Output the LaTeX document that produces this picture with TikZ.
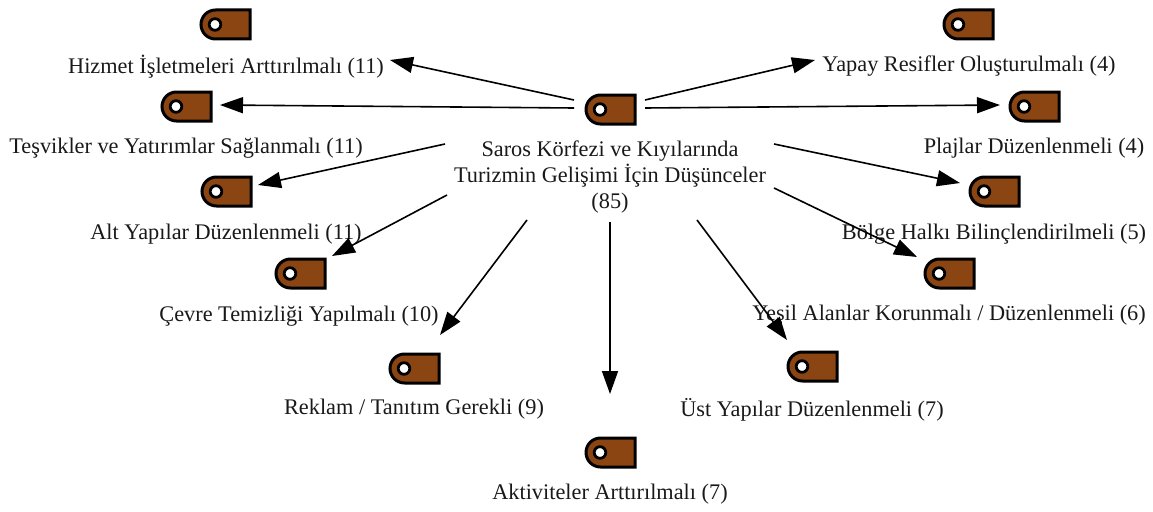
\documentclass[tikz,border=0pt]{standalone}
\usepackage{fontspec}
\setmainfont{Liberation Serif}
\usetikzlibrary{arrows.meta}
\definecolor{tagbrown}{HTML}{8B4513}
\tikzset{
  lbl/.style={inner sep=0pt,align=center,font=\fontsize{22.3}{26}\selectfont,text=black!90},
  conn/.style={line width=1.6pt,-{Triangle[length=23pt,width=16pt]},black},
  tagbody/.style={draw=black,line width=3pt,fill=tagbrown,line join=miter},
  taghole/.style={draw=black,line width=2.8pt,fill=white},
  tagicon/.pic={
    \path[tagbody] (50,1) -- (50,30) -- (15.5,30) arc[start angle=90,end angle=180,radius=14.5] -- (1,15.5) arc[start angle=180,end angle=270,radius=14.5] -- cycle;
    \path[taghole] (15,15.5) circle[radius=5.8];
  }
}
\begin{document}
\begin{tikzpicture}[x=1pt,y=-1pt]
\useasboundingbox (0,0) rectangle (1153,511);
\pic at (585,94) {tagicon};
\pic at (200,9) {tagicon};
\pic at (161,91) {tagicon};
\pic at (201,176) {tagicon};
\pic at (275,258) {tagicon};
\pic at (389,353) {tagicon};
\pic at (585,437) {tagicon};
\pic at (787,351) {tagicon};
\pic at (924,258) {tagicon};
\pic at (969,176) {tagicon};
\pic at (1009,91) {tagicon};
\pic at (943,9) {tagicon};
\node[lbl] (center) at (610,177.5) {Saros Körfezi ve Kıyılarında\\Turizmin Gelişimi İçin Düşünceler\\(85)};
\node[lbl] (hizmet) at (226,66.5) {Hizmet İşletmeleri Arttırılmalı (11)};
\node[lbl] (tesvik) at (186,148.5) {Teşvikler ve Yatırımlar Sağlanmalı (11)};
\node[lbl] (alt) at (226,234.5) {Alt Yapılar Düzenlenmeli (11)};
\node[lbl] (cevre) at (299,316.5) {Çevre Temizliği Yapılmalı (10)};
\node[lbl] (reklam) at (414,409.5) {Reklam / Tanıtım Gerekli (9)};
\node[lbl] (aktivite) at (610,494.5) {Aktiviteler Arttırılmalı (7)};
\node[lbl] (ust) at (812,409.5) {Üst Yapılar Düzenlenmeli (7)};
\node[lbl] (yesil) at (949,315.5) {Yeşil Alanlar Korunmalı / Düzenlenmeli (6)};
\node[lbl] (bolge) at (994,234.5) {Bölge Halkı Bilinçlendirilmeli (5)};
\node[lbl] (plaj) at (1034,148.5) {Plajlar Düzenlenmeli (4)};
\node[lbl] (yapay) at (969,66.5) {Yapay Resifler Oluşturulmalı (4)};
\coordinate (s1) at (574,100); \coordinate (t1) at (390,60);
\coordinate (s2) at (574,108); \coordinate (t2) at (220,105);
\coordinate (s3) at (445,144); \coordinate (t3) at (258,185);
\coordinate (s4) at (447,195); \coordinate (t4) at (332,256);
\coordinate (s5) at (527,220); \coordinate (t5) at (440,335);
\coordinate (s6) at (610,222); \coordinate (t6) at (610,394);
\coordinate (s7) at (697,220); \coordinate (t7) at (787,340);
\coordinate (s8) at (774,188); \coordinate (t8) at (917,257);
\coordinate (s9) at (774,144); \coordinate (t9) at (960,183);
\coordinate (s10) at (645,108); \coordinate (t10) at (1000,105);
\coordinate (s11) at (645,100); \coordinate (t11) at (815,60);
\foreach \i in {1,...,11} \draw[conn] (s\i) -- (t\i);
\end{tikzpicture}
\end{document}
